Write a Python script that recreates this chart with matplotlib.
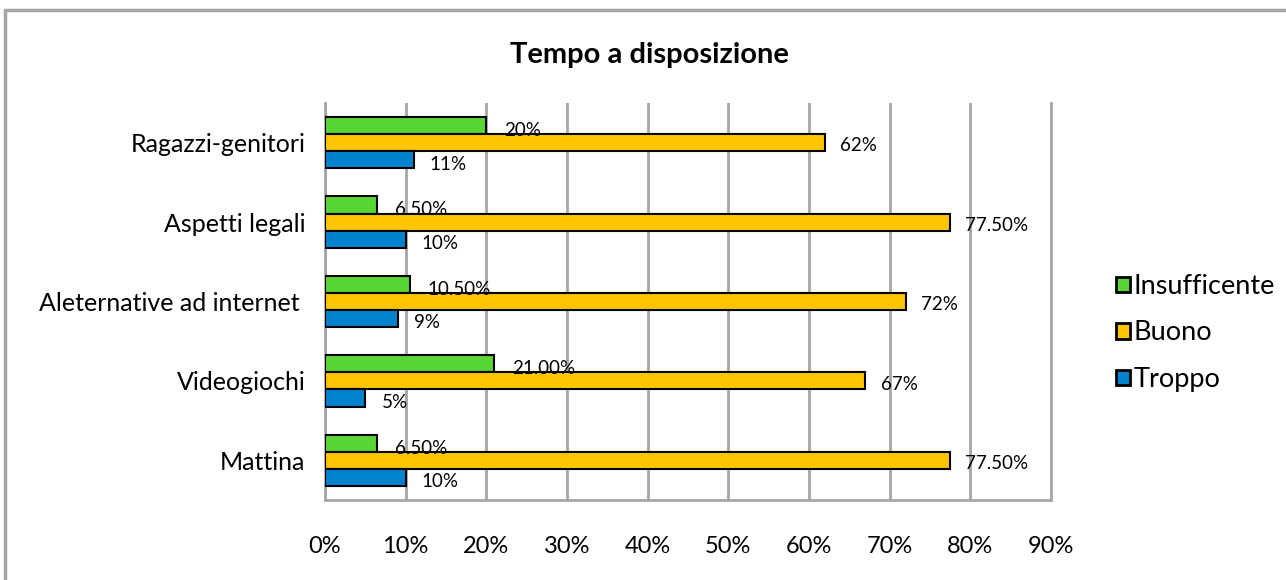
import matplotlib.pyplot as plt
import numpy as np

# data (bottom to top)
categories = ["Mattina", "Videogiochi", "Aleternative ad internet ", "Aspetti legali", "Ragazzi-genitori"]
insufficente = [6.5, 21.0, 10.5, 6.5, 20]
buono = [77.5, 67, 72, 77.5, 62]
troppo = [10, 5, 9, 10, 11]
lab_insuff = ["6.50%", "21.00%", "10.50%", "6.50%", "20%"]
lab_buono = ["77.50%", "67%", "72%", "77.50%", "62%"]
lab_troppo = ["10%", "5%", "9%", "10%", "11%"]

plt.rcParams['font.family'] = ['Lato', 'DejaVu Sans']

fig = plt.figure(figsize=(12.86, 5.8), dpi=100)
ax = fig.add_axes([325/1286, 1 - 500/580, 726/1286, 397/580])

y = np.arange(len(categories))
h = 0.215
grey = "#a6a6a6"

ax.barh(y + h, insufficente, h, color="#58d634", edgecolor="black", linewidth=1.5, label="Insufficente", zorder=3)
ax.barh(y, buono, h, color="#ffc600", edgecolor="black", linewidth=1.5, label="Buono", zorder=3)
ax.barh(y - h, troppo, h, color="#0083cc", edgecolor="black", linewidth=1.5, label="Troppo", zorder=3)

for i in range(len(categories)):
    ax.text(insufficente[i] + 2.2, y[i] + h * 0.72, lab_insuff[i], fontsize=13.5, va="center", zorder=4)
    ax.text(buono[i] + 1.9, y[i] - 0.04, lab_buono[i], fontsize=13.5, va="center", zorder=4)
    ax.text(troppo[i] + 2.0, y[i] - h * 1.25, lab_troppo[i], fontsize=13.5, va="center", zorder=4)

ax.set_xlim(0, 90)
ax.set_ylim(-0.5, 4.5)
ax.set_xticks(np.arange(0, 91, 10))
ax.set_xticklabels([f"{v}%" for v in range(0, 91, 10)], fontsize=17)
ax.set_yticks(y)
ax.set_yticklabels(categories, fontsize=18)
ax.tick_params(axis="x", length=0, pad=26)
ax.tick_params(axis="y", length=0, pad=14)
ax.xaxis.grid(True, color=grey, linewidth=2, zorder=0)
for s in ["left", "bottom", "right"]:
    ax.spines[s].set_color(grey)
    ax.spines[s].set_linewidth(2)
ax.spines["top"].set_visible(False)

fig.text(0.505, 1 - 55/580, "Tempo a disposizione", fontsize=21, fontweight="bold", ha="center", va="center")

leg = fig.legend(*ax.get_legend_handles_labels(), loc="center left",
                 bbox_to_anchor=(1116/1286, 1 - 333/580), frameon=False, fontsize=19.5,
                 borderpad=0, borderaxespad=0, handlelength=0.5, handleheight=0.5,
                 handletextpad=0.15, labelspacing=0.8)
for p in leg.get_patches():
    p.set_linewidth(2)

# outer chart border
fig.patches.append(plt.Rectangle((5/1286, -0.01), 1.1, 1 - 10/580 + 0.01, transform=fig.transFigure,
                                 fill=False, edgecolor=grey, linewidth=2.5))

fig.savefig("out.png", dpi=100)
